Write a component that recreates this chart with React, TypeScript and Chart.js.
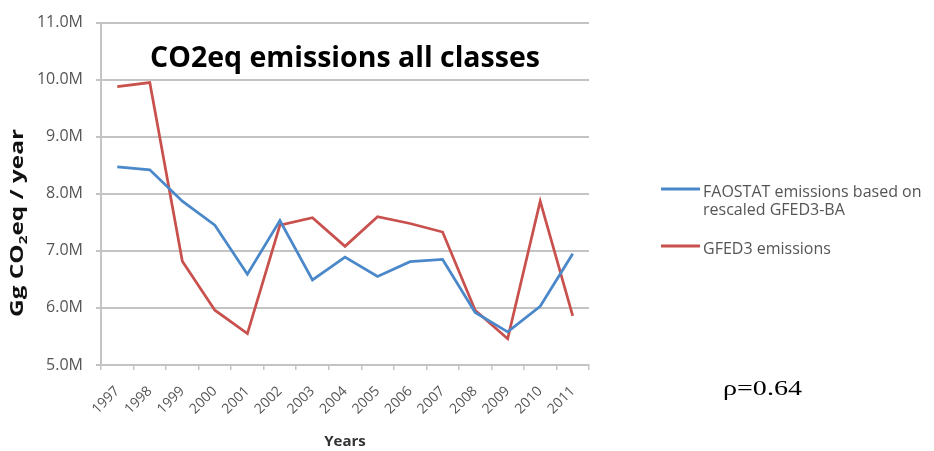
import React, { useEffect, useRef } from "react";
import { Chart, registerables } from "chart.js";

Chart.register(...registerables);

// ---- data (values in millions of Gg CO2eq / year) ----
const years = ["1997", "1998", "1999", "2000", "2001", "2002", "2003", "2004", "2005", "2006", "2007", "2008", "2009", "2010", "2011"];
const faostatValues = [8.47, 8.42, 7.87, 7.45, 6.59, 7.53, 6.49, 6.89, 6.55, 6.81, 6.85, 5.92, 5.58, 6.03, 6.95];
const gfed3Values = [9.88, 9.95, 6.82, 5.96, 5.55, 7.45, 7.58, 7.08, 7.60, 7.48, 7.33, 5.96, 5.46, 7.87, 5.86];
const yMin = 5;
const yMax = 11;
const yStep = 1;
const faostatLabelLines = ["FAOSTAT emissions based on", "rescaled GFED3-BA"];
const gfed3LabelLines = ["GFED3 emissions"];
const chartTitle = "CO2eq emissions all classes";
const xTitle = "Years";
const yTitleParts = ["Gg CO", "2", "eq / year"];
const rhoText = "ρ=0.64";

const BLUE = "#4a88c9";
const RED = "#c8504d";
const GRID = "#c4c4c4";
const TICK_TEXT = "#555555";
const FONT = '"Open Sans", "DejaVu Sans", sans-serif';

const overlayPlugin = {
  id: "overlay",
  afterDraw(chart: any) {
    const { ctx, chartArea } = chart;
    ctx.save();

    // Title inside plot
    ctx.font = `bold 28.5px ${FONT}`;
    ctx.fillStyle = "#000";
    ctx.textAlign = "center";
    ctx.textBaseline = "alphabetic";
    ctx.fillText(chartTitle, (chartArea.left + chartArea.right) / 2, chartArea.top + 44);

    // Y axis title (rotated, with subscript)
    ctx.save();
    ctx.translate(23, 223);
    ctx.rotate(-Math.PI / 2);
    const bigFont = `bold 17.5px ${FONT}`;
    const smallFont = `bold 11px ${FONT}`;
    ctx.font = bigFont;
    const w0 = ctx.measureText(yTitleParts[0]).width;
    const w2 = ctx.measureText(yTitleParts[2]).width;
    ctx.font = smallFont;
    const w1 = ctx.measureText(yTitleParts[1]).width;
    const total = w0 + w1 + w2;
    const targetLen = 188;
    ctx.scale(targetLen / total, 1);
    ctx.textAlign = "left";
    ctx.textBaseline = "alphabetic";
    ctx.fillStyle = "#111";
    let x = -total / 2;
    ctx.font = bigFont;
    ctx.fillText(yTitleParts[0], x, 0);
    x += w0;
    ctx.font = smallFont;
    ctx.fillText(yTitleParts[1], x, 4);
    x += w1;
    ctx.font = bigFont;
    ctx.fillText(yTitleParts[2], x, 0);
    ctx.restore();

    // Legend
    const legendItems = [
      { color: BLUE, lines: faostatLabelLines, y: 189 },
      { color: RED, lines: gfed3LabelLines, y: 246 },
    ];
    const lx0 = chartArea.right + 72;
    const lx1 = chartArea.right + 111;
    ctx.font = `16px ${FONT}`;
    ctx.fillStyle = TICK_TEXT;
    ctx.textAlign = "left";
    ctx.textBaseline = "middle";
    legendItems.forEach((item) => {
      ctx.strokeStyle = item.color;
      ctx.lineWidth = 3;
      ctx.beginPath();
      ctx.moveTo(lx0, item.y);
      ctx.lineTo(lx1, item.y);
      ctx.stroke();
      item.lines.forEach((line, i) => {
        ctx.fillText(line, lx1 + 3, item.y + 3 + i * 18);
      });
    });

    // rho annotation
    ctx.save();
    ctx.font = `22px "Liberation Serif", "Times New Roman", serif`;
    ctx.fillStyle = "#000";
    ctx.textAlign = "left";
    ctx.textBaseline = "alphabetic";
    const rw = ctx.measureText(rhoText).width;
    ctx.translate(chartArea.right + 134, 395);
    ctx.scale(79 / rw, 1);
    ctx.fillText(rhoText, 0, 0);
    ctx.restore();

    ctx.restore();
  },
};

export default function App() {
  const canvasRef = useRef<HTMLCanvasElement | null>(null);

  useEffect(() => {
    const canvas = canvasRef.current;
    if (!canvas) return;
    const chart = new Chart(canvas, {
      type: "line",
      data: {
        labels: years,
        datasets: [
          {
            label: faostatLabelLines.join(" "),
            data: faostatValues,
            borderColor: BLUE,
            backgroundColor: BLUE,
            borderWidth: 2.75,
            pointRadius: 0,
            tension: 0,
          },
          {
            label: gfed3LabelLines.join(" "),
            data: gfed3Values,
            borderColor: RED,
            backgroundColor: RED,
            borderWidth: 2.75,
            pointRadius: 0,
            tension: 0,
          },
        ],
      },
      options: {
        responsive: false,
        animation: false,
        layout: { padding: { left: 0, top: 15, right: 345, bottom: 0 } },
        plugins: {
          legend: { display: false },
          tooltip: { enabled: false },
          title: { display: false },
        },
        scales: {
          x: {
            type: "category",
            offset: true,
            grid: {
              offset: true,
              drawOnChartArea: false,
              drawTicks: true,
              tickLength: 5,
              color: GRID,
              lineWidth: 1.5,
            },
            border: { display: true, color: GRID, width: 2 },
            ticks: {
              color: TICK_TEXT,
              font: { family: FONT, size: 14 },
              minRotation: 45,
              maxRotation: 45,
              padding: 13,
              autoSkip: false,
            },
            title: {
              display: true,
              text: xTitle,
              color: "#333",
              font: { family: FONT, size: 15, weight: "bold" },
              padding: { top: 0, bottom: 0 },
            },
            afterFit: (scale: any) => {
              scale.height = 86;
            },
          },
          y: {
            min: yMin,
            max: yMax,
            ticks: {
              stepSize: yStep,
              color: TICK_TEXT,
              font: { family: FONT, size: 16 },
              padding: 13,
              callback: (v: any) => `${Number(v).toFixed(1)}M`,
            },
            grid: {
              color: GRID,
              lineWidth: 2,
              tickLength: 5,
              drawTicks: true,
            },
            border: { display: true, color: GRID, width: 2 },
            afterFit: (scale: any) => {
              scale.width = 101;
            },
          },
        },
      },
      plugins: [overlayPlugin],
    });
    return () => chart.destroy();
  }, []);

  return (
    <div style={{ position: "fixed", left: 0, top: 0, width: 934, height: 451, background: "#fff" }}>
      <canvas ref={canvasRef} width={934} height={451} />
    </div>
  );
}
